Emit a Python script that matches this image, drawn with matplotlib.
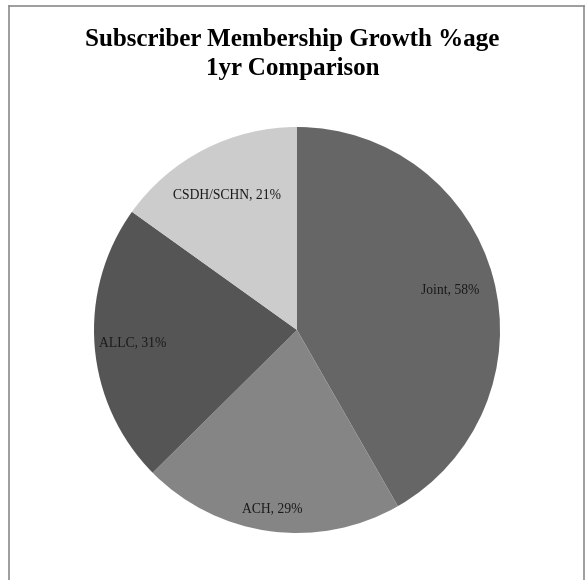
import numpy as np
import matplotlib.pyplot as plt
from matplotlib.lines import Line2D

# Рост числа подписчиков по группам, %
groups = ["Joint", "ACH", "ALLC", "CSDH/SCHN"]
growth = [58, 29, 31, 21]
colors = ["#666666", "#858585", "#555555", "#cccccc"]
label_dist = [0.78, 0.89, 0.81, 0.75]

fig = plt.figure(figsize=(5.85, 5.8), dpi=100)
ax = fig.add_axes([(297 - 203) / 585, (580 - 330 - 203) / 580, 406 / 585, 406 / 580])

wedges, _ = ax.pie(growth, colors=colors, startangle=90, counterclock=False,
                   radius=1.0, wedgeprops=dict(linewidth=0))
ax.set_xlim(-1, 1)
ax.set_ylim(-1, 1)
ax.set_aspect("auto")

# Подписи внутри секторов
for w, g, v, d in zip(wedges, groups, growth, label_dist):
    ang = np.deg2rad((w.theta1 + w.theta2) / 2)
    ax.text(d * np.cos(ang), d * np.sin(ang), f"{g}, {v}%",
            ha="center", va="center", fontsize=9.8, family="Liberation Serif",
            color="#1a1a1a")

fig.text(0.5, 1 - 54 / 580, "Subscriber Membership Growth %age\n1yr Comparison",
         ha="center", va="center", fontsize=18, fontweight="bold",
         family="Liberation Serif", linespacing=1.3)

# Рамка вокруг диаграммы (снизу открыта)
x0, x1, y0 = 8.5 / 585, 583.5 / 585, 1 - 5.5 / 580
for xs, ys in [([x0, x0], [0, y0]), ([x0, x1], [y0, y0]), ([x1, x1], [y0, 0])]:
    fig.add_artist(Line2D(xs, ys, color="#8c8c8c", linewidth=1.2))

fig.savefig("out.png", dpi=100)
